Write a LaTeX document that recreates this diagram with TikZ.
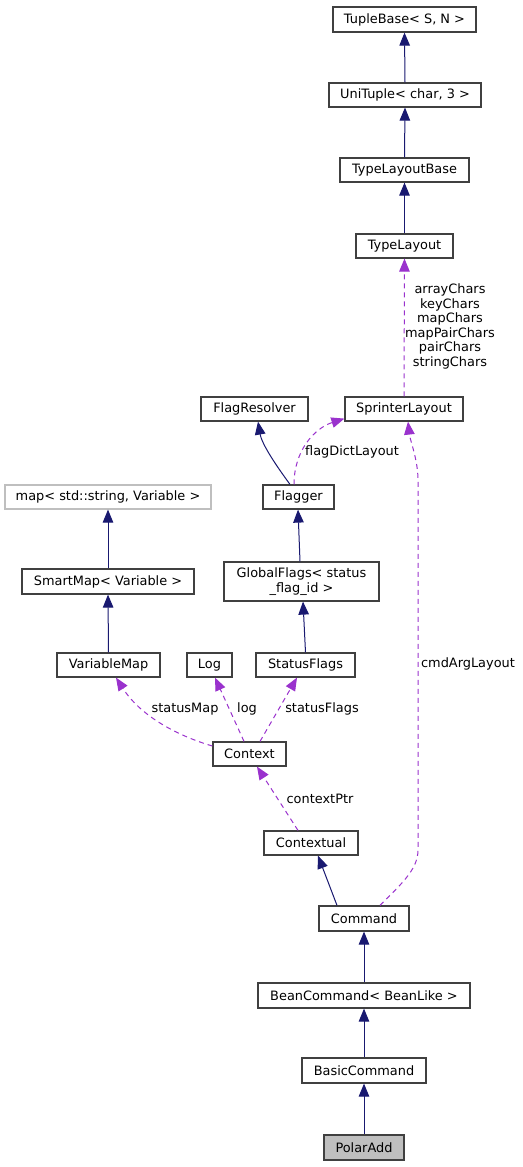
\documentclass[tikz,border=0pt]{standalone}
\usepackage{fontspec}
\setmainfont{DejaVu Sans}
\usetikzlibrary{arrows.meta}
\definecolor{navyedge}{HTML}{191970}
\definecolor{purpleedge}{HTML}{9A32CD}
\definecolor{boxgray}{HTML}{404040}
\definecolor{lightgray}{HTML}{BFBFBF}
\tikzset{
  box/.style={draw=boxgray, line width=1.2pt, inner sep=0pt, fill=white,
    font=\fontsize{12.9}{14.6}\selectfont, align=center},
  lbl/.style={inner sep=0pt, font=\fontsize{12.9}{14.6}\selectfont, align=center},
  inh/.style={draw=navyedge, line width=1pt, -{Triangle[length=13pt,width=10.5pt]}},
  use/.style={draw=purpleedge, line width=1pt, dash pattern=on 5pt off 4pt,
    -{Triangle[length=13pt,width=10.5pt]}},
}
\begin{document}
\begin{tikzpicture}[x=1pt,y=-1pt]
\useasboundingbox (0,0) rectangle (522,1167);
% nodes
\node[box, minimum width=143pt, minimum height=25pt] (TupleBase) at (404.5,19.5) {TupleBase< S, N >};
\node[box, minimum width=152pt, minimum height=24pt] (UniTuple) at (405,95) {UniTuple< char, 3 >};
\node[box, minimum width=129pt, minimum height=24pt] (TypeLayoutBase) at (404.5,170) {TypeLayoutBase};
\node[box, minimum width=97pt, minimum height=24pt] (TypeLayout) at (404.5,246) {TypeLayout};
\node[box, minimum width=118pt, minimum height=24pt] (SprinterLayout) at (404,409) {SprinterLayout};
\node[box, minimum width=107pt, minimum height=24pt] (FlagResolver) at (254.5,409) {FlagResolver};
\node[box, minimum width=71pt, minimum height=24pt] (Flagger) at (298.5,497) {Flagger};
\node[box, draw=lightgray, minimum width=206pt, minimum height=24pt] (map) at (108,497) {map< std::string, Variable >};
\node[box, minimum width=172pt, minimum height=25pt] (SmartMap) at (108,581.5) {SmartMap< Variable >};
\node[box, minimum width=155pt, minimum height=39pt] (GlobalFlags) at (301.5,581.5) {GlobalFlags< status\\\_flag\_id >};
\node[box, minimum width=103pt, minimum height=24pt] (VariableMap) at (108.5,665) {VariableMap};
\node[box, minimum width=45pt, minimum height=24pt] (Log) at (209.5,665) {Log};
\node[box, minimum width=99pt, minimum height=24pt] (StatusFlags) at (305.5,665) {StatusFlags};
\node[box, minimum width=73pt, minimum height=24pt] (Context) at (249.5,754) {Context};
\node[box, minimum width=94pt, minimum height=24pt] (Contextual) at (311,843) {Contextual};
\node[box, minimum width=90pt, minimum height=25pt] (Command) at (364,918.5) {Command};
\node[box, minimum width=212pt, minimum height=25pt] (BeanCommand) at (364,995.5) {BeanCommand< BeanLike >};
\node[box, minimum width=124pt, minimum height=25pt] (BasicCommand) at (364,1070.5) {BasicCommand};
\node[box, fill=lightgray, minimum width=80pt, minimum height=25pt] (PolarAdd) at (364,1147.5) {PolarAdd};
% labels
\node[lbl] (lChars) at (450,326.5) {arrayChars\\keyChars\\mapChars\\mapPairChars\\pairChars\\stringChars};
\node[lbl] (lFlagDict) at (352,452) {flagDictLayout};
\node[lbl] (lCmdArg) at (468,664) {cmdArgLayout};
\node[lbl] (lStatusMap) at (185,709) {statusMap};
\node[lbl] (lLog) at (247,709) {log};
\node[lbl] (lStatusFlags) at (322,709) {statusFlags};
\node[lbl] (lContextPtr) at (320,799) {contextPtr};
% inheritance edges
\draw[inh] (UniTuple.north) -- (TupleBase.south);
\draw[inh] (TypeLayoutBase.north) -- (UniTuple.south);
\draw[inh] (TypeLayout.north) -- (TypeLayoutBase.south);
\draw[inh] ([xshift=-8.5pt]Flagger.north) .. controls (278,468) and (262,445) .. ([xshift=3.5pt]FlagResolver.south);
\draw[inh] ([xshift=-1.5pt]GlobalFlags.north) -- ([xshift=-0.5pt]Flagger.south);
\draw[inh] (SmartMap.north) -- (map.south);
\draw[inh] (VariableMap.north) -- (SmartMap.south);
\draw[inh] (StatusFlags.north) -- ([xshift=1.5pt]GlobalFlags.south);
\draw[inh] ([xshift=-27pt]Command.north) -- ([xshift=7pt]Contextual.south);
\draw[inh] (BeanCommand.north) -- (Command.south);
\draw[inh] (BasicCommand.north) -- (BeanCommand.south);
\draw[inh] (PolarAdd.north) -- (BasicCommand.south);
% usage edges
\draw[use] (SprinterLayout.north) -- (TypeLayout.south);
\draw[use] ([xshift=-4.5pt]Flagger.north) .. controls (294,450) and (315,428) .. ([yshift=3pt]SprinterLayout.south west);
\draw[use] ([yshift=8pt]Context.west) .. controls (175,735) and (140,715) .. ([xshift=7.5pt]VariableMap.south);
\draw[use] ([xshift=-5.5pt]Context.north) -- ([xshift=5.5pt]Log.south);
\draw[use] ([xshift=10.5pt]Context.north) -- ([xshift=-8.5pt]StatusFlags.south);
\draw[use] ([xshift=-13pt]Contextual.north) -- ([xshift=7.5pt]Context.south);
\draw[use] ([xshift=16pt]Command.north) .. controls (400,885) and (418,870) .. (418,850) -- (418,480) .. controls (418,460) and (410,440) .. ([xshift=4pt]SprinterLayout.south);
\end{tikzpicture}
\end{document}
